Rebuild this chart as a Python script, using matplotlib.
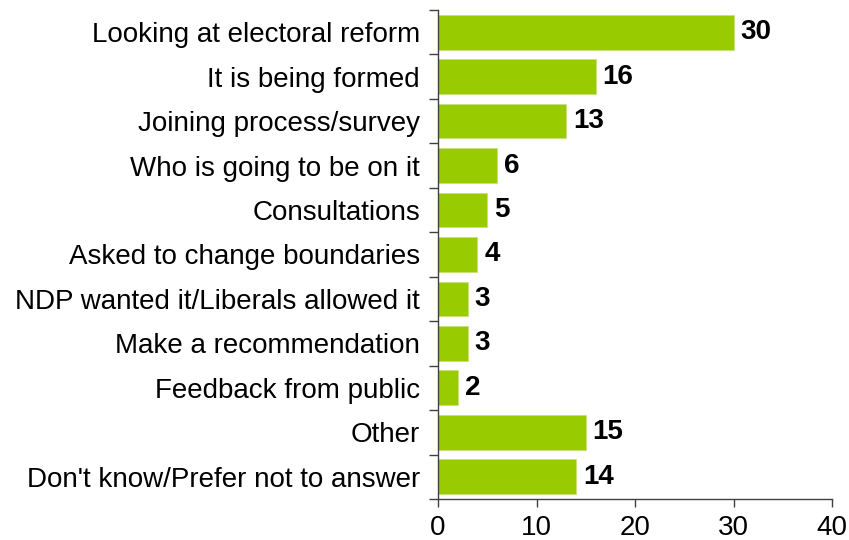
import numpy as np
import matplotlib.pyplot as plt
from matplotlib.ticker import FixedLocator

categories = [
    "Looking at electoral reform",
    "It is being formed",
    "Joining process/survey",
    "Who is going to be on it",
    "Consultations",
    "Asked to change boundaries",
    "NDP wanted it/Liberals allowed it",
    "Make a recommendation",
    "Feedback from public",
    "Other",
    "Don't know/Prefer not to answer",
]
values = [30, 16, 13, 6, 5, 4, 3, 3, 2, 15, 14]
x_ticks = [0, 10, 20, 30, 40]

plt.rcParams["font.family"] = ["Liberation Sans", "DejaVu Sans"]

fig = plt.figure(figsize=(8.49, 5.40), dpi=100)
ax = fig.add_axes([0.516, 0.076, 0.464, 0.9055])

y = np.arange(len(categories))
bars = ax.barh(y, values, height=0.78, color="#99CC00",
               edgecolor="#c8e07a", linewidth=0.6)

for yi, v in zip(y, values):
    ax.text(v + 0.7, yi, str(v), va="center", ha="left",
            fontsize=20, fontweight="bold", color="black")

ax.set_ylim(len(categories) - 0.5, -0.5)
ax.set_xlim(0, 40)

ax.set_yticks(y)
ax.set_yticklabels(categories, fontsize=20)
ax.tick_params(axis="y", which="major", length=0, pad=13)
ax.yaxis.set_minor_locator(FixedLocator(np.arange(-0.5, len(categories), 1.0)))
ax.tick_params(axis="y", which="minor", length=6.5, width=1.0,
               color="#404040", direction="out")

ax.set_xticks(x_ticks)
ax.set_xticklabels([str(t) for t in x_ticks], fontsize=20)
ax.tick_params(axis="x", length=5.5, width=1.0, color="#404040",
               direction="out", pad=6)

for side in ("top", "right"):
    ax.spines[side].set_visible(False)
for side in ("left", "bottom"):
    ax.spines[side].set_color("#404040")
    ax.spines[side].set_linewidth(1.0)

fig.savefig("out.png", dpi=100)
